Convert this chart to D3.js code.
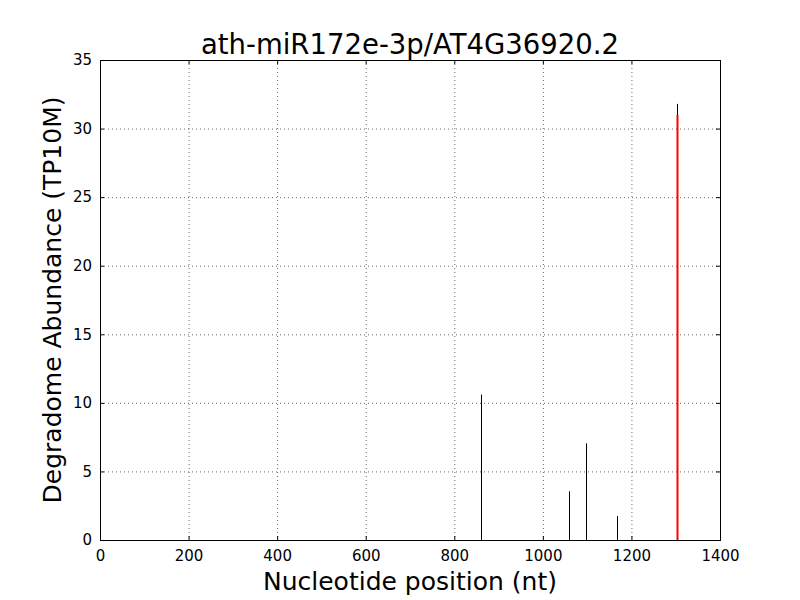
<!DOCTYPE html>
<html>
<head>
<meta charset="utf-8">
<script src="https://cdn.jsdelivr.net/npm/d3@7"></script>
<style>
  body { margin: 0; background: #fff; }
  text { font-family: "DejaVu Sans", sans-serif; fill: #000; }
</style>
</head>
<body>
<div id="chart"></div>
<script>
// data
var positions = [861, 1060, 1098, 1168, 1303];
var abundance = [10.6, 3.55, 7.05, 1.75, 31.8];
var sitePosition = [1303];
var siteAbundance = [31];
var xTicks = [0, 200, 400, 600, 800, 1000, 1200, 1400];
var yTicks = [0, 5, 10, 15, 20, 25, 30, 35];

var svgWidth = 800;
var svgHeight = 600;
var margin = { top: 60, right: 80, bottom: 60, left: 100 };
var width = svgWidth - margin.left - margin.right;
var height = svgHeight - margin.top - margin.bottom;

var svg = d3.select("#chart")
  .append("svg")
  .attr("width", svgWidth)
  .attr("height", svgHeight);

var chartGroup = svg.append("g")
  .attr("transform", `translate(${margin.left}, ${margin.top})`);

var x = d3.scaleLinear().domain([0, 1400]).range([0, width]);
var y = d3.scaleLinear().domain([0, 35]).range([height, 0]);

// grid
chartGroup.append("g")
  .selectAll("line")
  .data(xTicks.slice(1, -1))
  .enter().append("line")
  .attr("x1", d => x(d) + 0.5).attr("x2", d => x(d) + 0.5)
  .attr("y1", 0).attr("y2", height)
  .attr("stroke", "#000").attr("stroke-width", 0.6)
  .attr("stroke-dasharray", "1,3");

chartGroup.append("g")
  .selectAll("line")
  .data(yTicks.slice(1, -1))
  .enter().append("line")
  .attr("y1", d => y(d) + 0.5).attr("y2", d => y(d) + 0.5)
  .attr("x1", 0).attr("x2", width)
  .attr("stroke", "#000").attr("stroke-width", 0.6)
  .attr("stroke-dasharray", "1,3");

// stems
chartGroup.append("g")
  .selectAll("line")
  .data(positions)
  .enter().append("line")
  .attr("x1", d => Math.round(x(d)) + 0.5).attr("x2", d => Math.round(x(d)) + 0.5)
  .attr("y1", y(0))
  .attr("y2", (d, i) => y(abundance[i]))
  .attr("stroke", "#000").attr("stroke-width", 1);

chartGroup.append("g")
  .selectAll("line")
  .data(sitePosition)
  .enter().append("line")
  .attr("x1", d => Math.round(x(d)) + 0.5).attr("x2", d => Math.round(x(d)) + 0.5)
  .attr("y1", y(0))
  .attr("y2", (d, i) => y(siteAbundance[i]))
  .attr("stroke", "red").attr("stroke-width", 2);

// axes, ticks inward on all four sides
var tickFont = "15px";
var fmt = d3.format("d");
var xAxis = d3.axisBottom(x).tickValues(xTicks).tickFormat(fmt).tickSizeInner(-4).tickSizeOuter(0).tickPadding(10);
var xAxisTop = d3.axisTop(x).tickValues(xTicks).tickSizeInner(-4).tickSizeOuter(0).tickFormat("");
var yAxis = d3.axisLeft(y).tickValues(yTicks).tickFormat(fmt).tickSizeInner(-4).tickSizeOuter(0).tickPadding(8);
var yAxisRight = d3.axisRight(y).tickValues(yTicks).tickSizeInner(-4).tickSizeOuter(0).tickFormat("");

var gx = chartGroup.append("g").attr("transform", `translate(0, ${height})`).call(xAxis);
var gxt = chartGroup.append("g").call(xAxisTop);
var gy = chartGroup.append("g").call(yAxis);
var gyr = chartGroup.append("g").attr("transform", `translate(${width}, 0)`).call(yAxisRight);

[gx, gxt, gy, gyr].forEach(function(g) {
  g.select(".domain").remove();
  g.selectAll("line").attr("stroke", "#000");
  g.selectAll("text").style("font-size", tickFont).style("font-family", "DejaVu Sans");
});

// frame
chartGroup.append("rect")
  .attr("x", 0.5).attr("y", 0.5)
  .attr("width", width).attr("height", height)
  .attr("fill", "none").attr("stroke", "#000").attr("stroke-width", 1);

// labels
svg.append("text")
  .attr("x", margin.left + width / 2)
  .attr("y", 54)
  .attr("text-anchor", "middle")
  .style("font-size", "27.5px")
  .text("ath-miR172e-3p/AT4G36920.2");

svg.append("text")
  .attr("x", margin.left + width / 2)
  .attr("y", 590)
  .attr("text-anchor", "middle")
  .style("font-size", "25px")
  .text("Nucleotide position (nt)");

svg.append("text")
  .attr("transform", `translate(61, ${margin.top + height / 2}) rotate(-90)`)
  .attr("text-anchor", "middle")
  .style("font-size", "25px")
  .text("Degradome Abundance (TP10M)");
</script>
</body>
</html>
